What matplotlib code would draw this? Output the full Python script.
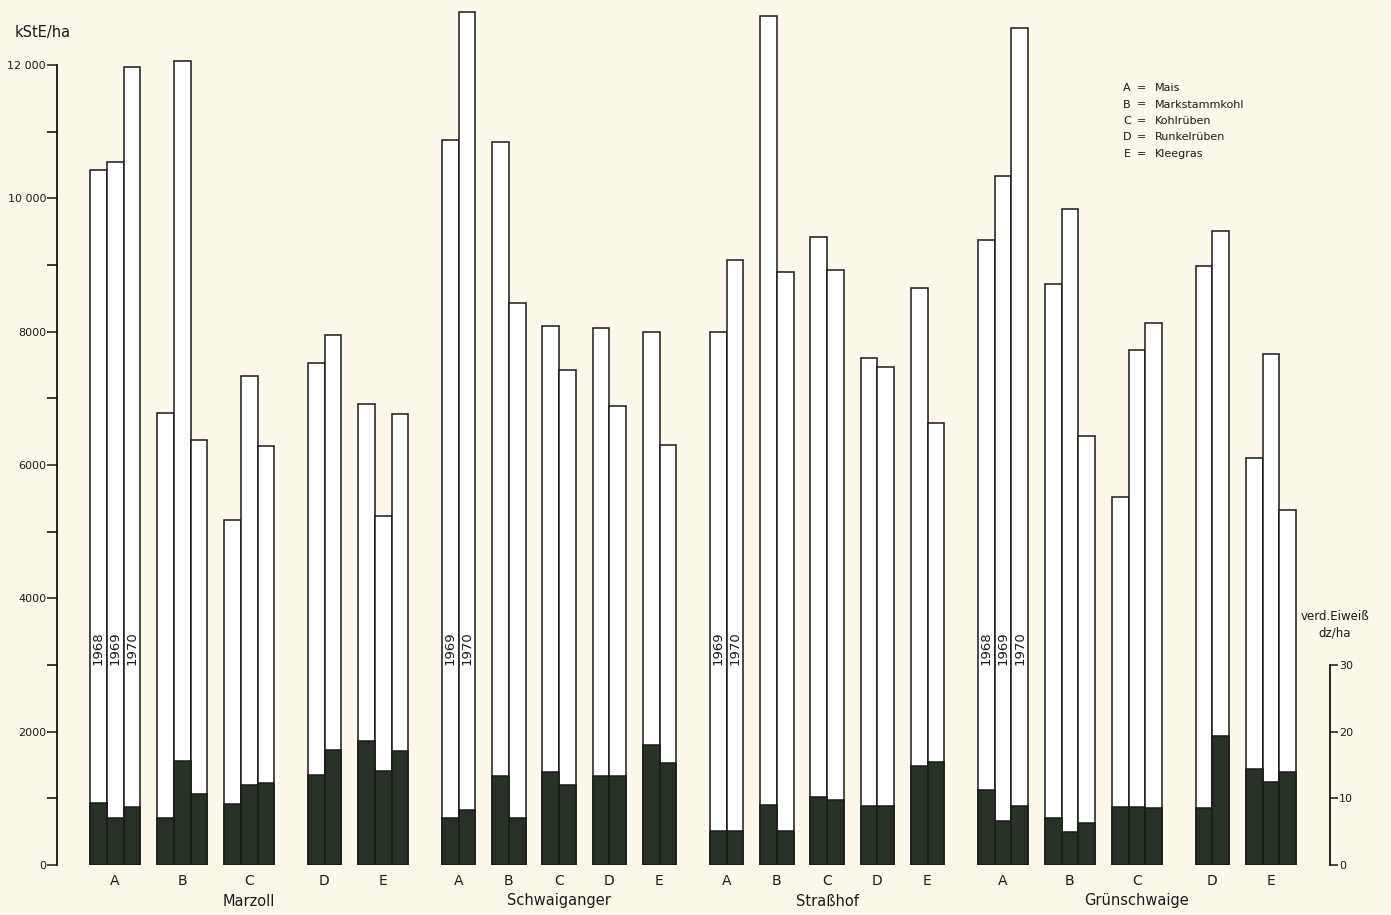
import numpy as np
import matplotlib
matplotlib.use('Agg')
import matplotlib.pyplot as plt

# ---- data ----
stations = ['Marzoll', 'Schwaiganger', 'Straßhof', 'Grünschwaige']
crops    = ['A', 'B', 'C', 'D', 'E']
crop_names = ['Mais', 'Markstammkohl', 'Kohlrüben', 'Runkelrüben', 'Kleegras']

years_marzoll      = ['1968', '1969', '1970']
years_schwaiganger = ['1969', '1970']
years_strasshof    = ['1969', '1970']
years_gruen        = ['1968', '1969', '1970']

# kStE/ha  (rows: crops A-E, cols: years; None = not grown)
kste_marzoll = [[10425, 10540, 11975], [6775, 12065, 6375], [5175, 7340, 6290],
                [None, 7525, 7950], [6910, 5235, 6760]]
kste_schwaiganger = [[10875, 12800], [10850, 8435], [8085, 7425],
                     [8050, 6890], [8000, 6300]]
kste_strasshof = [[8000, 9075], [12740, 8890], [9415, 8925],
                  [7600, 7475], [8650, 6625]]
kste_gruen = [[9375, 10335, 12560], [8710, 9835, 6435], [5520, 7725, 8125],
              [None, 8990, 9515], [6105, 7660, 5325]]

# verd. Eiweiss dz/ha
eiw_marzoll = [[9.25, 7.0, 8.75], [7.0, 15.6, 10.65], [9.15, 12.0, 12.35],
               [None, 13.5, 17.25], [18.65, 14.1, 17.15]]
eiw_schwaiganger = [[7.1, 8.25], [13.35, 7.0], [13.9, 12.0],
                    [13.4, 13.4], [18.05, 15.25]]
eiw_strasshof = [[5.15, 5.15], [9.0, 5.15], [10.25, 9.75],
                 [8.9, 8.9], [14.85, 15.45]]
eiw_gruen = [[11.25, 6.65, 8.85], [7.1, 4.9, 6.35], [8.75, 8.75, 8.6],
             [None, 8.6, 19.4], [14.45, 12.45, 13.9]]

station_years = [years_marzoll, years_schwaiganger, years_strasshof, years_gruen]
station_kste  = [kste_marzoll, kste_schwaiganger, kste_strasshof, kste_gruen]
station_eiw   = [eiw_marzoll, eiw_schwaiganger, eiw_strasshof, eiw_gruen]

# ---- styling ----
BG   = '#fbf8ea'
DARK = '#283125'
INK  = '#1a1a1a'
plt.rcParams['font.family'] = ['DejaVu Sans']

W, H = 1391, 915
fig = plt.figure(figsize=(W / 100, H / 100), dpi=100, facecolor=BG)
ax = fig.add_axes([56.5 / W, 1 - 865 / H, (1329.5 - 56.5) / W, 865 / H])
ax.set_facecolor('none')
ax2 = ax.twinx()
ax2.set_facecolor('none')

ax.set_xlim(-2, 74)
ax.set_ylim(0, 12975)
ax2.set_ylim(0, 129.75)

pos = 0
for s, station in enumerate(stations):
    years = station_years[s]
    n = len(years)
    start = pos
    for c, crop in enumerate(crops):
        xs = []
        for j, yr in enumerate(years):
            v = station_kste[s][c][j]
            if v is None:
                continue
            x = pos + j + 0.5
            xs.append(x)
            ax.bar(x, v, width=1, color='white', edgecolor=INK, linewidth=1.1, zorder=2)
            ax2.bar(x, station_eiw[s][c][j], width=1, color=DARK, edgecolor=INK,
                    linewidth=1.1, zorder=3)
            if crop == 'A':
                ax.text(x, 3000, yr, rotation=90, ha='center', va='bottom',
                        fontsize=9.5, color=INK, zorder=4)
        ax.text(np.mean(xs), -240, crop, ha='center', va='center', fontsize=10, color=INK)
        pos += n + 1
    end = pos - 1
    ax.text((start + end) / 2, -540, station, ha='center', va='center',
            fontsize=10.5, color=INK)
    pos += 1

# left axis
for name in ['top', 'right', 'bottom']:
    ax.spines[name].set_visible(False)
ax.spines['left'].set_bounds(0, 12000)
ax.spines['left'].set_linewidth(1.2)
ax.set_xticks([])
ax.set_yticks(np.arange(0, 12001, 2000))
ax.set_yticklabels(['0', '2000', '4000', '6000', '8000', '10 000', '12 000'])
ax.set_yticks(np.arange(1000, 12000, 2000), minor=True)
ax.tick_params(axis='y', which='major', length=7, width=1.1, labelsize=8, pad=0.5, colors=INK)
ax.tick_params(axis='y', which='minor', length=7, width=1.1)

# right axis (protein)
for name in ['top', 'left', 'bottom']:
    ax2.spines[name].set_visible(False)
ax2.spines['right'].set_bounds(0, 30)
ax2.spines['right'].set_linewidth(1.2)
ax2.set_yticks([0, 10, 20, 30])
ax2.tick_params(axis='y', length=6, width=1.1, labelsize=8, pad=1, colors=INK)

fig.text(15 / W, 1 - 33 / H, 'kStE/ha', ha='left', va='center', fontsize=10.5, color=INK)
fig.text(1335 / W, 1 - 617 / H, 'verd.Eiweiß', ha='center', va='center', fontsize=8.5, color=INK)
fig.text(1335 / W, 1 - 633 / H, 'dz/ha', ha='center', va='center', fontsize=8.5, color=INK)

# crop key
for i, (crop, cname) in enumerate(zip(crops, crop_names)):
    y = 1 - (88 + i * 16.5) / H
    fig.text(1127 / W, y, crop, ha='center', va='center', fontsize=8, color=INK)
    fig.text(1141 / W, y, '=', ha='center', va='center', fontsize=8, color=INK)
    fig.text(1155 / W, y, cname, ha='left', va='center', fontsize=8, color=INK)

fig.savefig('out.png', dpi=100, facecolor=BG)
